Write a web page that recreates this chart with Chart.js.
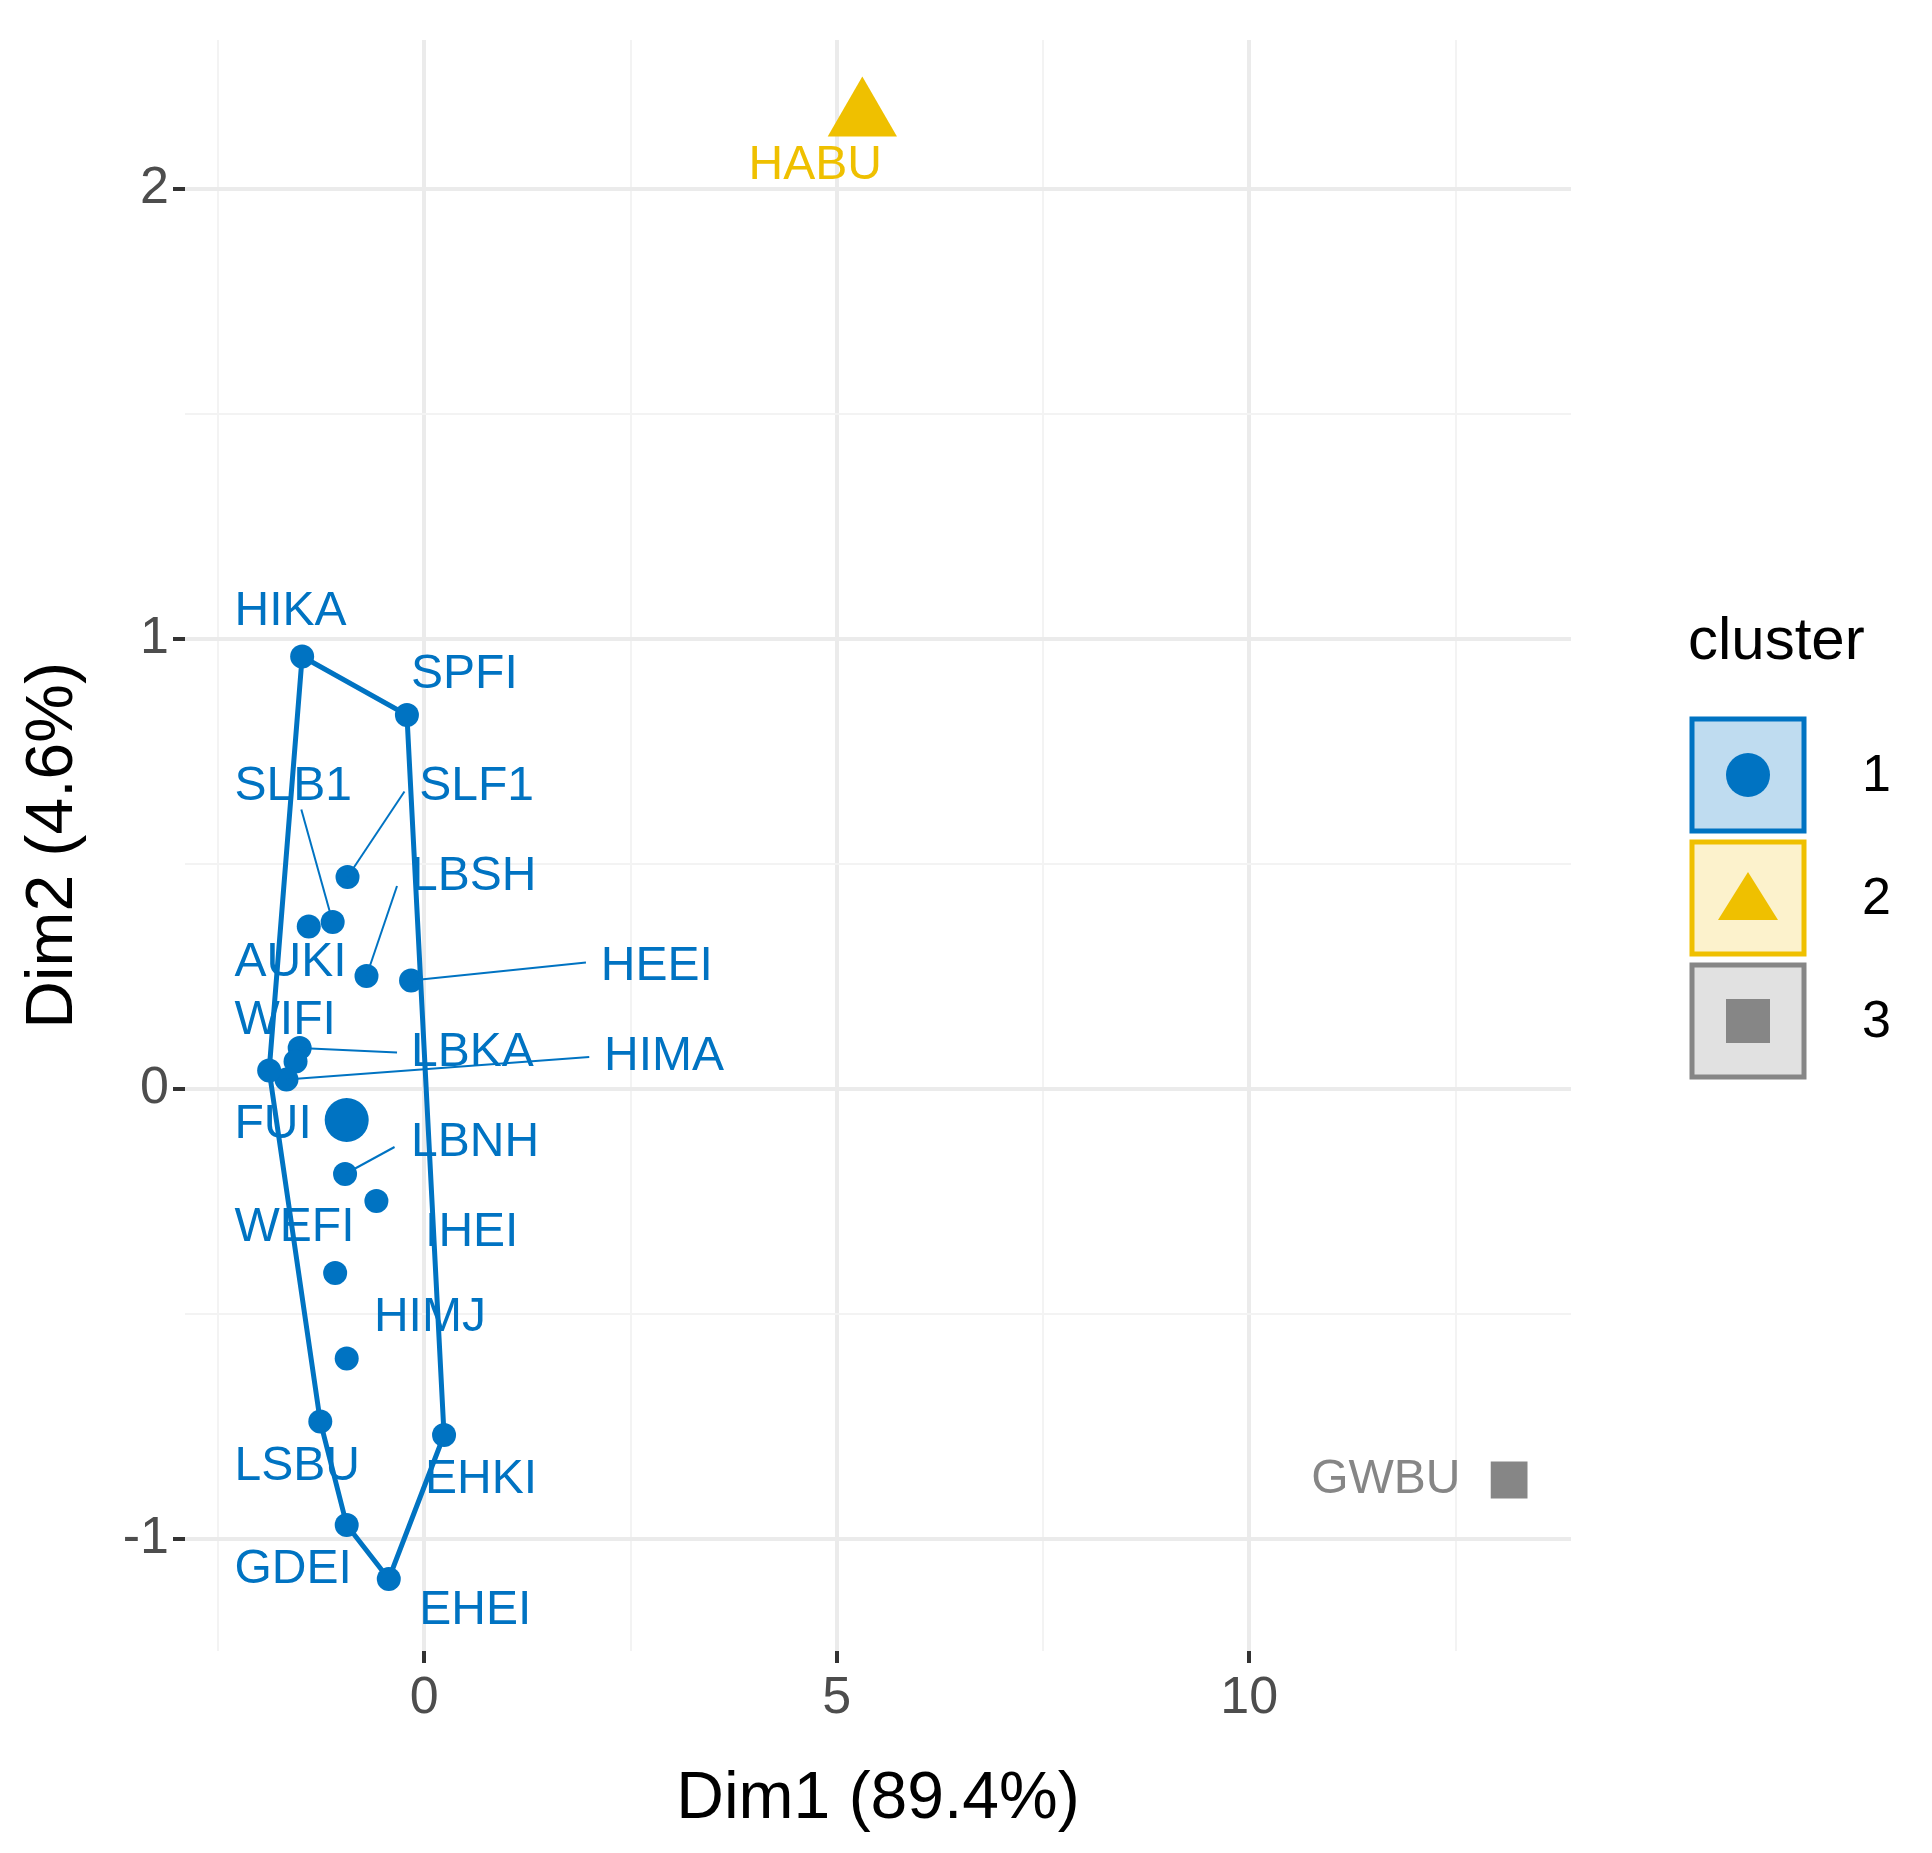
<!DOCTYPE html>
<html>
<head>
<meta charset="utf-8">
<script src="https://cdn.jsdelivr.net/npm/chart.js@4"></script>
<style>
  html, body { margin: 0; padding: 0; background: #fff; }
  #wrap { width: 1932px; height: 1853px; }
</style>
</head>
<body>
<div id="wrap"><canvas id="c" width="1932" height="1853"></canvas></div>
<script>
// cluster 1 points (Dim1, Dim2), label anchor (left / middle) and leader-line ends
const c1Names = ["HIKA", "SPFI", "SLF1", "SLB1", "AUKI", "LBSH", "HEEI", "LBKA", "WIFI", "HIMA", "FUI",
  "LBNH", "IHEI", "WEFI", "HIMJ", "LSBU", "EHKI", "GDEI", "EHEI"];
const c1X = [-1.48, -0.21, -0.93, -1.11, -1.40, -0.70, -0.16, -1.51, -1.56, -1.67, -1.88,
  -0.96, -0.58, -1.08, -0.94, -1.26, 0.24, -0.94, -0.43];
const c1Y = [0.96, 0.83, 0.47, 0.37, 0.36, 0.25, 0.24, 0.09, 0.06, 0.02, 0.04,
  -0.19, -0.25, -0.41, -0.60, -0.74, -0.77, -0.97, -1.09];
const c1LabelX = [-2.30, -0.16, -0.06, -2.30, -2.30, -0.16, 2.14, -0.16, -2.30, 2.18, -2.30,
  -0.16, 0.01, -2.30, -0.61, -2.30, 0.01, -2.30, -0.06];
const c1LabelY = [1.06, 0.92, 0.67, 0.67, 0.28, 0.47, 0.27, 0.08, 0.15, 0.07, -0.08,
  -0.12, -0.32, -0.31, -0.51, -0.84, -0.87, -1.07, -1.16];
const c1LeaderX = [null, null, -0.24, -1.49, null, -0.33, 1.96, -0.33, null, 2.0, null,
  -0.36, null, null, null, null, null, null, null];
const c1LeaderY = [null, null, 0.66, 0.62, null, 0.45, 0.28, 0.08, null, 0.07, null,
  -0.13, null, null, null, null, null, null, null];
const hullOrder = ["HIKA", "SPFI", "EHKI", "EHEI", "GDEI", "LSBU", "FUI", "HIKA"];
const c1Center = { x: -0.94, y: -0.07 };

const c2 = { name: "HABU", x: 5.31, y: 2.16, labelX: 3.93, labelY: 2.05 };
const c3 = { name: "GWBU", x: 13.15, y: -0.87, labelX: 10.75, labelY: -0.87 };

const xGrid = [-2.5, 0, 2.5, 5, 7.5, 10, 12.5];
const yGrid = [-1, -0.5, 0, 0.5, 1, 1.5, 2];

const COLORS = { c1: "#0073C2", c2: "#EFC000", c3: "#868686" };
const FONT = "'Liberation Sans', Arial, sans-serif";

const hullPts = hullOrder.map((n) => {
  const i = c1Names.indexOf(n);
  return { x: c1X[i], y: c1Y[i] };
});

const labelsPlugin = {
  id: "labels",
  afterDatasetsDraw(chart) {
    const { ctx, scales: { x, y } } = chart;
    ctx.save();
    ctx.font = `48px ${FONT}`;
    ctx.textBaseline = "middle";
    ctx.textAlign = "left";
    ctx.lineWidth = 2;
    c1Names.forEach((n, i) => {
      if (c1LeaderX[i] != null) {
        ctx.strokeStyle = COLORS.c1;
        ctx.beginPath();
        ctx.moveTo(x.getPixelForValue(c1X[i]), y.getPixelForValue(c1Y[i]));
        ctx.lineTo(x.getPixelForValue(c1LeaderX[i]), y.getPixelForValue(c1LeaderY[i]));
        ctx.stroke();
      }
      ctx.fillStyle = COLORS.c1;
      ctx.fillText(n, x.getPixelForValue(c1LabelX[i]), y.getPixelForValue(c1LabelY[i]));
    });
    ctx.fillStyle = COLORS.c2;
    ctx.fillText(c2.name, x.getPixelForValue(c2.labelX), y.getPixelForValue(c2.labelY));
    ctx.fillStyle = COLORS.c3;
    ctx.fillText(c3.name, x.getPixelForValue(c3.labelX), y.getPixelForValue(c3.labelY));

    // legend
    ctx.fillStyle = "#000";
    ctx.font = `60px ${FONT}`;
    ctx.fillText("cluster", 1688, 642);
    const keys = [
      { lbl: "1", col: COLORS.c1, fill: "rgba(0,115,194,0.25)", shape: "circle" },
      { lbl: "2", col: COLORS.c2, fill: "rgba(239,192,0,0.2)", shape: "tri" },
      { lbl: "3", col: COLORS.c3, fill: "rgba(134,134,134,0.25)", shape: "rect" },
    ];
    keys.forEach((k, i) => {
      const bx = 1692, by = 719 + i * 123, s = 112;
      ctx.fillStyle = "#fff";
      ctx.fillRect(bx, by, s, s);
      ctx.fillStyle = k.fill;
      ctx.fillRect(bx, by, s, s);
      ctx.strokeStyle = k.col;
      ctx.lineWidth = 5;
      ctx.strokeRect(bx, by, s, s);
      const cx = bx + s / 2, cy = by + s / 2;
      ctx.fillStyle = k.col;
      ctx.beginPath();
      if (k.shape === "circle") ctx.arc(cx, cy, 22, 0, Math.PI * 2);
      else if (k.shape === "tri") { ctx.moveTo(cx, cy - 26); ctx.lineTo(cx + 30, cy + 22); ctx.lineTo(cx - 30, cy + 22); ctx.closePath(); }
      else ctx.rect(cx - 22, cy - 22, 44, 44);
      ctx.fill();
      ctx.fillStyle = "#000";
      ctx.font = `52px ${FONT}`;
      ctx.fillText(k.lbl, 1862, cy + 2);
    });
    ctx.restore();
  },
};

new Chart(document.getElementById("c"), {
  type: "scatter",
  data: {
    datasets: [
      {
        type: "line",
        data: hullPts,
        borderColor: COLORS.c1,
        backgroundColor: "rgba(0,115,194,0.25)",
        borderWidth: 5,
        fill: true,
        pointRadius: 0,
        tension: 0,
        order: 3,
      },
      {
        data: c1X.map((v, i) => ({ x: v, y: c1Y[i] })),
        backgroundColor: COLORS.c1,
        borderWidth: 0,
        pointRadius: 12,
        order: 2,
      },
      {
        data: [c1Center],
        backgroundColor: COLORS.c1,
        borderWidth: 0,
        pointRadius: 22,
        order: 1,
      },
      {
        data: [{ x: c2.x, y: c2.y }],
        backgroundColor: COLORS.c2,
        borderWidth: 0,
        pointStyle: "triangle",
        pointRadius: 40,
        order: 1,
      },
      {
        data: [{ x: c3.x, y: c3.y }],
        backgroundColor: COLORS.c3,
        borderWidth: 0,
        pointStyle: "rect",
        pointRadius: 26,
        order: 1,
      },
    ],
  },
  options: {
    responsive: false,
    animation: false,
    layout: { padding: { left: 10, right: 361, top: 25, bottom: 10 } },
    plugins: { legend: { display: false }, tooltip: { enabled: false } },
    scales: {
      x: {
        type: "linear",
        min: -2.9,
        max: 13.9,
        afterBuildTicks: (s) => { s.ticks = xGrid.map((v) => ({ value: v })); },
        afterFit: (s) => { s.height = 192; },
        border: { display: false },
        grid: {
          color: (c) => (c.tick && c.tick.value % 5 === 0 ? "#ebebeb" : "#f3f3f3"),
          lineWidth: (c) => (c.tick && c.tick.value % 5 === 0 ? 4 : 2),
          tickColor: (c) => (c.tick && c.tick.value % 5 === 0 ? "#333" : "rgba(0,0,0,0)"),
          tickLength: 12,
        },
        ticks: {
          color: "#4d4d4d",
          font: { family: FONT, size: 52 },
          padding: 4,
          maxRotation: 0,
          callback: (v) => (v % 5 === 0 ? String(v) : ""),
        },
        title: { display: true, text: "Dim1 (89.4%)", color: "#000", font: { family: FONT, size: 66 }, padding: { top: 4 } },
      },
      y: {
        type: "linear",
        min: -1.25,
        max: 2.33,
        afterBuildTicks: (s) => { s.ticks = yGrid.map((v) => ({ value: v })); },
        afterFit: (s) => { s.width = 175; },
        border: { display: false },
        grid: {
          color: (c) => (c.tick && Number.isInteger(c.tick.value) ? "#ebebeb" : "#f3f3f3"),
          lineWidth: (c) => (c.tick && Number.isInteger(c.tick.value) ? 4 : 2),
          tickColor: (c) => (c.tick && Number.isInteger(c.tick.value) ? "#333" : "rgba(0,0,0,0)"),
          tickLength: 12,
        },
        ticks: {
          color: "#4d4d4d",
          font: { family: FONT, size: 52 },
          padding: 4,
          callback: (v) => (Number.isInteger(v) ? String(v) : ""),
        },
        title: { display: true, text: "Dim2 (4.6%)", color: "#000", font: { family: FONT, size: 66 }, padding: { bottom: 4 } },
      },
    },
  },
  plugins: [labelsPlugin],
});
</script>
</body>
</html>
